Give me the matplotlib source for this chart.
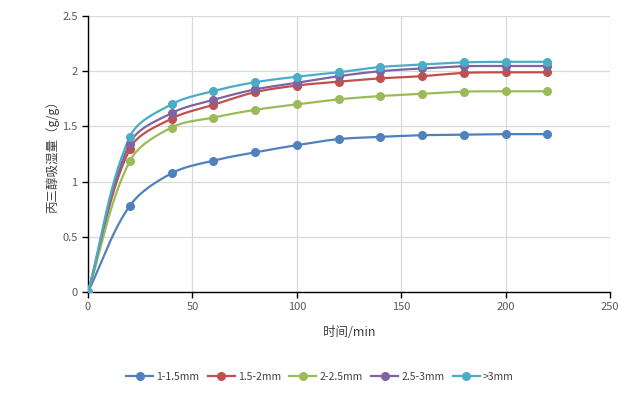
import numpy as np
import matplotlib
matplotlib.use('Agg')
import matplotlib.pyplot as plt
from matplotlib.lines import Line2D

plt.rcParams['font.family'] = ['Noto Sans CJK SC', 'DejaVu Sans']

# data
time_min = [0, 20, 40, 60, 80, 100, 120, 140, 160, 180, 200, 220]
s_1_15 = [0, 0.78, 1.075, 1.19, 1.265, 1.33, 1.385, 1.405, 1.42, 1.425, 1.43, 1.43]
s_15_2 = [0, 1.295, 1.57, 1.695, 1.81, 1.87, 1.905, 1.935, 1.955, 1.985, 1.99, 1.99]
s_2_25 = [0, 1.185, 1.49, 1.58, 1.65, 1.70, 1.745, 1.775, 1.795, 1.815, 1.818, 1.818]
s_25_3 = [0, 1.345, 1.62, 1.74, 1.835, 1.895, 1.955, 2.0, 2.025, 2.045, 2.047, 2.047]
s_3 = [0, 1.405, 1.70, 1.82, 1.90, 1.95, 1.99, 2.038, 2.06, 2.08, 2.085, 2.085]
labels = ['1-1.5mm', '1.5-2mm', '2-2.5mm', '2.5-3mm', '>3mm']
colors = ['#4F81BD', '#C0504D', '#9BBB59', '#8064A2', '#4BACC6']


def smooth(x, y, n=30, sx=2.09, sy=110.4):
    # smoothed line like Excel: bezier segments, handles scaled to segment length
    p = np.column_stack([np.asarray(x) * sx, np.asarray(y) * sy]).astype(float)
    pts = []
    for i in range(len(p) - 1):
        p0 = p[i - 1] if i > 0 else p[i]
        p3 = p[i + 2] if i + 2 < len(p) else p[i + 1]
        L = np.linalg.norm(p[i + 1] - p[i])
        t1 = p[i + 1] - p0
        t2 = p3 - p[i]
        c1 = p[i] + t1 / np.linalg.norm(t1) * L / 3
        c2 = p[i + 1] - t2 / np.linalg.norm(t2) * L / 3
        t = np.linspace(0, 1, n)[:, None]
        seg = ((1 - t) ** 3 * p[i] + 3 * (1 - t) ** 2 * t * c1
               + 3 * (1 - t) * t ** 2 * c2 + t ** 3 * p[i + 1])
        pts.append(seg)
    pts = np.vstack(pts)
    return pts[:, 0] / sx, pts[:, 1] / sy


fig = plt.figure(figsize=(6.4, 3.96), dpi=100)
ax = fig.add_axes([0.1375, 0.2626, 0.8155, 0.697])

handles = []
for ys, c, lab in zip([s_1_15, s_15_2, s_2_25, s_25_3, s_3], colors, labels):
    sx, sy = smooth(time_min, ys)
    ax.plot(sx, sy, color=c, lw=1.6, zorder=3)
    ax.plot(time_min, ys, 'o', color=c, ms=5.5, zorder=4)
    handles.append(Line2D([], [], color=c, lw=1.6, marker='o', ms=5.5, label=lab))

ax.set_xlim(0, 250)
ax.set_ylim(0, 2.5)
ax.set_xticks(np.arange(0, 251, 50))
ax.set_yticks(np.arange(0, 2.51, 0.5))
ax.set_yticklabels(['0', '0.5', '1', '1.5', '2', '2.5'])
ax.grid(True, color='#D9D9D9', lw=0.9)
ax.set_axisbelow(True)
for s in ['top', 'right']:
    ax.spines[s].set_visible(False)
for s in ['left', 'bottom']:
    ax.spines[s].set_color('black')
    ax.spines[s].set_linewidth(1.0)
ax.tick_params(labelsize=8, colors='#595959', length=4, width=1, direction='out')
ax.tick_params(axis='both', which='both', color='black')

ax.set_xlabel('时间/min', fontsize=9, color='#404040', labelpad=10)
ax.set_ylabel('丙三醇吸湿量（g/g）', fontsize=9, color='#404040', labelpad=2)

fig.legend(handles=handles, loc='center', bbox_to_anchor=(0.5, 0.048), ncol=5,
           frameon=False, fontsize=7.5, handlelength=2.6, columnspacing=0.8,
           handletextpad=0.3, labelcolor='#404040')

fig.savefig('out.png', dpi=100)
